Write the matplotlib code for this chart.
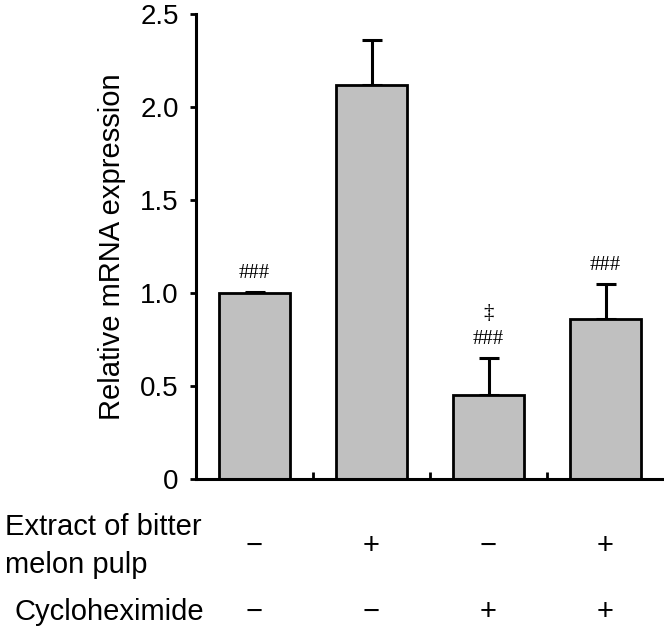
import numpy as np
import matplotlib
matplotlib.use("Agg")
import matplotlib.pyplot as plt
import matplotlib.transforms as mtransforms

plt.rcParams['font.family'] = ['Liberation Sans', 'DejaVu Sans']

# data
groups = [0, 1, 2, 3]
expression = [1.0, 2.12, 0.45, 0.86]
sem = [0.005, 0.24, 0.20, 0.19]
marks = ["###", "", "###", "###"]
extract_row = ["\u2212", "+", "\u2212", "+"]
chx_row = ["\u2212", "\u2212", "+", "+"]
yticks = [0, 0.5, 1.0, 1.5, 2.0, 2.5]
ytick_labels = ["0", "0.5", "1.0", "1.5", "2.0", "2.5"]

H = 629.0
fig = plt.figure(figsize=(6.64, 6.29), dpi=100)
ax = fig.add_axes([196/664, 1 - 479/H, 468/664, 465/H])

ax.bar(groups, expression, width=0.61, color="#c0c0c0",
       edgecolor="black", linewidth=2, zorder=2)
ax.errorbar(groups, expression, yerr=[np.zeros(len(sem)), sem], fmt="none",
            ecolor="black", elinewidth=2.2, capsize=7.5, capthick=2.2, zorder=1)

ax.set_xlim(-0.5, 3.5)
ax.set_ylim(0, 2.5)
ax.set_yticks(yticks)
ax.set_yticklabels(ytick_labels, fontsize=20)
ax.set_xticks([])
ax.set_xticks([0.5, 1.5, 2.5], minor=True)
ax.tick_params(axis="x", which="minor", direction="in", length=5, width=2)
ax.tick_params(axis="y", direction="out", length=4.5, width=2, pad=8)
for s in ["top", "right"]:
    ax.spines[s].set_visible(False)
for s in ["left", "bottom"]:
    ax.spines[s].set_linewidth(2.2)
ax.set_ylabel("Relative mRNA expression", fontsize=21, labelpad=10)

# significance marks
for i, (v, e, m) in enumerate(zip(expression, sem, marks)):
    if m:
        ax.text(i, v + e + 0.075, m, ha="center", va="baseline",
                fontsize=15, family="Liberation Serif")
ax.text(2, expression[2] + sem[2] + 0.215, "\u2021", ha="center",
        va="baseline", fontsize=15, family="Liberation Serif")

# treatment table below the axis
trans = mtransforms.blended_transform_factory(ax.transData, fig.transFigure)
fig.text(5/664, 1 - 535/H, "Extract of bitter", ha="left", va="baseline",
         fontsize=21)
fig.text(5/664, 1 - 573/H, "melon pulp", ha="left", va="baseline",
         fontsize=21)
fig.text(15/664, 1 - 620/H, "Cycloheximide", ha="left", va="baseline",
         fontsize=21)
for i in groups:
    ax.text(i, 1 - 554/H, extract_row[i], transform=trans, ha="center",
            va="baseline", fontsize=21)
    ax.text(i, 1 - 620/H, chx_row[i], transform=trans, ha="center",
            va="baseline", fontsize=21)

fig.savefig("out.png", dpi=100)
